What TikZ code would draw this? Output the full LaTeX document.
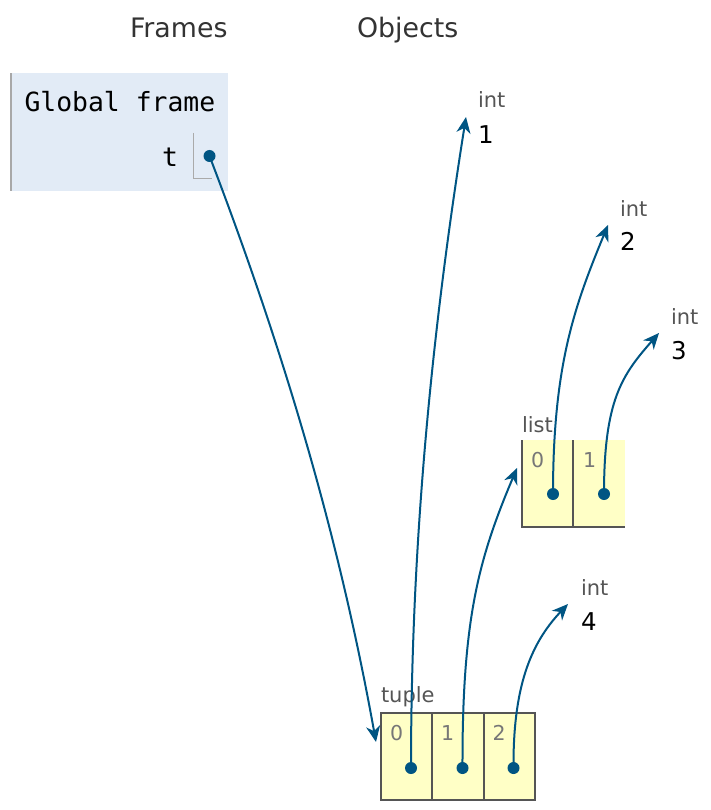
\documentclass[tikz,border=0pt]{standalone}
\usepackage{fontspec}
\setmainfont{DejaVu Sans}
\setmonofont{DejaVu Sans Mono}
\usetikzlibrary{arrows.meta}
\definecolor{ptrblue}{HTML}{005583}
\definecolor{framebg}{HTML}{E2EBF6}
\definecolor{cellbg}{HTML}{FFFFC6}
\definecolor{cellborder}{HTML}{555555}
\definecolor{headgray}{HTML}{333333}
\definecolor{labgray}{HTML}{555555}
\definecolor{idxgray}{HTML}{777777}
\definecolor{pboxgray}{HTML}{AAAAAA}
\definecolor{framebar}{HTML}{A8A8A8}
\tikzset{
  txt/.style={anchor=base west, inner sep=0pt, outer sep=0pt},
  heading/.style={txt, text=headgray, font=\fontsize{26.8}{31}\selectfont},
  monotxt/.style={txt, text=black, font=\ttfamily\fontsize{26.4}{30}\selectfont},
  typelab/.style={txt, text=labgray, font=\fontsize{21}{25}\selectfont},
  valtxt/.style={txt, text=black, font=\fontsize{24.5}{28}\selectfont},
  idxtxt/.style={txt, text=idxgray, font=\fontsize{20.5}{24}\selectfont},
  cell/.style={draw=cellborder, fill=cellbg, line width=2pt, minimum width=51.3pt, minimum height=87pt, inner sep=0pt, outer sep=0pt},
  cellfill/.style={fill=cellbg, minimum width=51pt, minimum height=87pt, inner sep=0pt, outer sep=0pt},
  border/.style={draw=cellborder, line width=2pt},
  dot/.style={circle, fill=ptrblue, minimum size=12pt, inner sep=0pt, outer sep=0pt},
  ptrtip/.tip={Stealth[length=16pt, width=14pt, inset=5pt, fill=ptrblue]},
  ptr/.style={draw=ptrblue, line width=2pt, arrows={-ptrtip}},
  pbox/.style={draw=pboxgray, line width=1.7pt}
}
\begin{document}
\begin{tikzpicture}[x=1pt,y=-1pt]
\useasboundingbox (0,0) rectangle (710,810);

% headings
\node[heading] (hframes) at (130,38) {Frames};
\node[heading] (hobjects) at (357,38) {Objects};

% global frame
\node[fill=framebg, minimum width=218pt, minimum height=117.5pt, inner sep=0pt, outer sep=0pt, anchor=north west] (gframe) at (10,73.3) {};
\draw[draw=framebar, line width=2pt] ([xshift=1pt]gframe.north west) -- ([xshift=1pt]gframe.south west);
\node[monotxt] (gtitle) at (24.5,111.5) {Global frame};
\node[monotxt] (tvar) at (162,166.5) {t};
\coordinate (pbtop) at (193.5,133);
\coordinate (pbcorner) at (193.5,178.5);
\coordinate (pbend) at (211.5,178.5);
\draw[pbox] (pbtop) -- (pbcorner) -- (pbend);
\node[dot] (tdot) at (209.5,156) {};

% int objects
\node[typelab] (int1lab) at (478,108) {int};
\node[valtxt] (int1val) at (478,144) {1};
\node[typelab] (int2lab) at (620,216) {int};
\node[valtxt] (int2val) at (620,251) {2};
\node[typelab] (int3lab) at (671,324) {int};
\node[valtxt] (int3val) at (671,359) {3};
\node[typelab] (int4lab) at (581,595) {int};
\node[valtxt] (int4val) at (581,630) {4};

\coordinate (int1tip) at (466,117);
\coordinate (int2tip) at (608,225);
\coordinate (int3tip) at (659,333);
\coordinate (int4tip) at (568,604);

% list
\node[typelab] (listlab) at (522,432) {list};
\node[cellfill, anchor=north west] (lc0) at (522,440) {};
\node[cellfill, anchor=north west] (lc1) at (573.5,440) {};
\draw[border] (lc0.north west) -- (lc0.south west) -- (lc1.south east);
\draw[border] (lc0.north east) -- (lc0.south east);
\node[idxtxt] (li0) at (531,467) {0};
\node[idxtxt] (li1) at (583,467) {1};
\node[dot] (ld0) at (553,494) {};
\node[dot] (ld1) at (604,494) {};
\coordinate (listtip) at (517,468);

% tuple
\node[typelab] (tuplelab) at (381,702) {tuple};
\node[cell, anchor=north west] (tc0) at (381,713) {};
\node[cell, anchor=north west] (tc1) at (432.3,713) {};
\node[cell, anchor=north west] (tc2) at (483.6,713) {};
\node[idxtxt] (ti0) at (390,740) {0};
\node[idxtxt] (ti1) at (441,740) {1};
\node[idxtxt] (ti2) at (492.5,740) {2};
\node[dot] (td0) at (411,768) {};
\node[dot] (td1) at (462.5,768) {};
\node[dot] (td2) at (513.5,768) {};
\coordinate (tupletip) at (376,742);

% pointers
\draw[ptr] (tdot.center) .. controls (286,356) and (340,542) .. (tupletip);
\draw[ptr] (td0.center) .. controls (411,548) and (431,337) .. (int1tip);
\draw[ptr] (td1.center) .. controls (462,618) and (479,558) .. (listtip);
\draw[ptr] (td2.center) .. controls (513,688) and (530,644) .. (int4tip);
\draw[ptr] (ld0.center) .. controls (553,364) and (575,305) .. (int2tip);
\draw[ptr] (ld1.center) .. controls (604,400) and (622,375) .. (int3tip);
\end{tikzpicture}
\end{document}
